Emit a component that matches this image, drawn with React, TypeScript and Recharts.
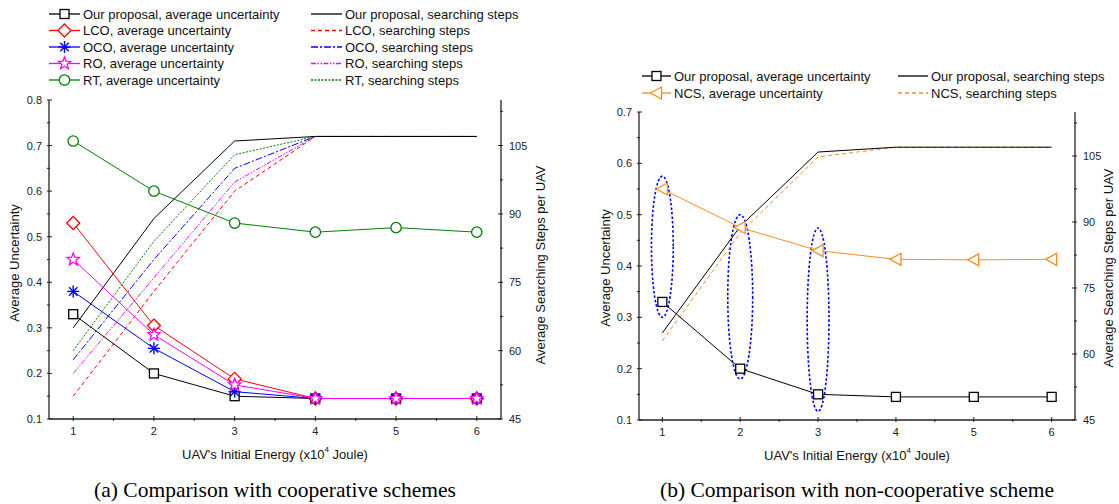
import React from 'react';
import { ComposedChart, Line, XAxis, YAxis, ReferenceArea } from 'recharts';

// x axis: UAV initial energy (x10^4 J)
const energy = [1, 2, 3, 4, 5, 6];

// (a) cooperative schemes - average uncertainty (left axis)
const ourUncertaintyA = [0.33, 0.2, 0.15, 0.145, 0.145, 0.145];
const lcoUncertainty = [0.53, 0.305, 0.188, 0.145, 0.145, 0.145];
const ocoUncertainty = [0.38, 0.255, 0.16, 0.145, 0.145, 0.145];
const roUncertainty = [0.45, 0.285, 0.175, 0.145, 0.145, 0.145];
const rtUncertainty = [0.71, 0.6, 0.53, 0.51, 0.52, 0.51];

// (a) searching steps per UAV (right axis)
const ourStepsA = [65, 89, 106, 107, 107, 107];
const lcoSteps = [50, 73, 95, 107, 107, 107];
const ocoSteps = [58, 80, 100, 107, 107, 107];
const roSteps = [55, 76, 97, 107, 107, 107];
const rtSteps = [60, 84, 103, 107, 107, 107];

// (b) non-cooperative scheme
const ourUncertaintyB = [0.33, 0.2, 0.15, 0.145, 0.145, 0.145];
const ncsUncertainty = [0.55, 0.475, 0.43, 0.413, 0.412, 0.413];
const ourStepsB = [64.8, 89, 105.9, 107, 107, 107];
const ncsSteps = [63, 87.5, 104.8, 107, 107, 107];

// dotted ellipses around the uncertainty gaps in (b)
const gapEnergy = [1, 2, 3];
const gapTop = [0.575, 0.5, 0.474];
const gapBottom = [0.3, 0.18, 0.117];
const gapHalfWidth = [0.14, 0.16, 0.14];

// ticks (minor ones carry no label)
const energyTicks = [1, 1.5, 2, 2.5, 3, 3.5, 4, 4.5, 5, 5.5, 6];
const uncertaintyTicksA = [0.1, 0.15, 0.2, 0.25, 0.3, 0.35, 0.4, 0.45, 0.5, 0.55, 0.6, 0.65, 0.7, 0.75, 0.8];
const uncertaintyTicksB = [0.1, 0.15, 0.2, 0.25, 0.3, 0.35, 0.4, 0.45, 0.5, 0.55, 0.6, 0.65, 0.7];
const stepTicks = [45, 52.5, 60, 67.5, 75, 82.5, 90, 97.5, 105, 112.5];

const rowsA = energy.map((e, i) => ({
  energy: e,
  ourU: ourUncertaintyA[i],
  lcoU: lcoUncertainty[i],
  ocoU: ocoUncertainty[i],
  roU: roUncertainty[i],
  rtU: rtUncertainty[i],
  ourS: ourStepsA[i],
  lcoS: lcoSteps[i],
  ocoS: ocoSteps[i],
  roS: roSteps[i],
  rtS: rtSteps[i],
}));

const rowsB = energy.map((e, i) => ({
  energy: e,
  ourU: ourUncertaintyB[i],
  ncsU: ncsUncertainty[i],
  ourS: ourStepsB[i],
  ncsS: ncsSteps[i],
}));

const FONT = '"Liberation Sans", Arial, sans-serif';
const SERIF = '"Liberation Serif", "Times New Roman", serif';
const AXIS = '#222';
const BLACK = '#000000';
const RED = '#ff0000';
const BLUE = '#0000ff';
const MAGENTA = '#ff00ff';
const GREEN = '#008000';
const ORANGE = '#ff8c1a';

const near = (a: number, b: number) => Math.abs(a - b) < 1e-6;
const isTenth = (v: number) => near(v * 10, Math.round(v * 10));

// ---- markers ----
const Square = ({ cx, cy, color }: any) => (
  <rect x={cx - 4.5} y={cy - 4.5} width={9} height={9} fill="#fff" stroke={color} strokeWidth={1.3} />
);
const Diamond = ({ cx, cy, color }: any) => (
  <polygon
    points={`${cx},${cy - 6.5} ${cx + 6.5},${cy} ${cx},${cy + 6.5} ${cx - 6.5},${cy}`}
    fill="#fff"
    stroke={color}
    strokeWidth={1.3}
  />
);
const Asterisk = ({ cx, cy, color }: any) => {
  const r = 6;
  const d = r * 0.707;
  return (
    <g stroke={color} strokeWidth={1.4}>
      <line x1={cx - r} y1={cy} x2={cx + r} y2={cy} />
      <line x1={cx} y1={cy - r} x2={cx} y2={cy + r} />
      <line x1={cx - d} y1={cy - d} x2={cx + d} y2={cy + d} />
      <line x1={cx - d} y1={cy + d} x2={cx + d} y2={cy - d} />
    </g>
  );
};
const Star = ({ cx, cy, color }: any) => {
  const pts: string[] = [];
  for (let k = 0; k < 10; k++) {
    const r = k % 2 === 0 ? 6.5 : 2.8;
    const a = -Math.PI / 2 + (k * Math.PI) / 5;
    pts.push(`${cx + r * Math.cos(a)},${cy + r * Math.sin(a)}`);
  }
  return <polygon points={pts.join(' ')} fill="#fff" stroke={color} strokeWidth={1.3} />;
};
const Circle = ({ cx, cy, color }: any) => (
  <circle cx={cx} cy={cy} r={5.2} fill="#fff" stroke={color} strokeWidth={1.3} />
);
const TriangleLeft = ({ cx, cy, color }: any) => (
  <polygon
    points={`${cx - 6},${cy} ${cx + 5},${cy - 6} ${cx + 5},${cy + 6}`}
    fill="#fff"
    stroke={color}
    strokeWidth={1.3}
  />
);

const dotOf = (Shape: any, color: string) => (p: any) => (
  <g key={`d-${p.index}`}>
    <Shape cx={p.cx} cy={p.cy} color={color} />
  </g>
);

// ---- axis ticks: drawn inside the frame, labels outside ----
const LeftTick = (p: any) => {
  const v = p.payload.value;
  const major = isTenth(v);
  return (
    <g>
      <line x1={p.x} y1={p.y} x2={p.x + (major ? 5 : 3)} y2={p.y} stroke={AXIS} />
      {major && (
        <text x={p.x - 5} y={p.y} textAnchor="end" dominantBaseline="central" fontFamily={FONT} fontSize={11} fill={AXIS}>
          {v.toFixed(1)}
        </text>
      )}
    </g>
  );
};
const RightTick = (p: any) => {
  const v = p.payload.value;
  const major = near((v - 45) % 15, 0);
  return (
    <g>
      <line x1={p.x} y1={p.y} x2={p.x - (major ? 5 : 3)} y2={p.y} stroke={AXIS} />
      {major && (
        <text x={p.x + 6} y={p.y} textAnchor="start" dominantBaseline="central" fontFamily={FONT} fontSize={11} fill={AXIS}>
          {v}
        </text>
      )}
    </g>
  );
};
const BottomTick = (p: any) => {
  const v = p.payload.value;
  const major = Number.isInteger(v);
  return (
    <g>
      <line x1={p.x} y1={p.y} x2={p.x} y2={p.y - (major ? 5 : 3)} stroke={AXIS} />
      {major && (
        <text x={p.x} y={p.y + 10} textAnchor="middle" dominantBaseline="central" fontFamily={FONT} fontSize={11} fill={AXIS}>
          {v}
        </text>
      )}
    </g>
  );
};
const TopTick = (p: any) => {
  const major = Number.isInteger(p.payload.value);
  return <line x1={p.x} y1={p.y} x2={p.x} y2={p.y + (major ? 5 : 3)} stroke={AXIS} />;
};

const Ellipse = (p: any) => (
  <ellipse
    cx={p.x + p.width / 2}
    cy={p.y + p.height / 2}
    rx={p.width / 2}
    ry={p.height / 2}
    fill="none"
    stroke={BLUE}
    strokeWidth={1.6}
    strokeDasharray="2.5 2"
  />
);

const axisLine = { stroke: AXIS, strokeWidth: 1.3 };

const Frame = ({ uncertaintyTicks, uncertaintyMax, leftWidth, rightWidth, bottomHeight }: any) => [
  <XAxis
    key="xb"
    dataKey="energy"
    type="number"
    domain={[0.7, 6.3]}
    ticks={energyTicks}
    interval={0}
    height={bottomHeight}
    tickSize={0}
    tickLine={false}
    axisLine={axisLine}
    tick={BottomTick}
  />,
  <XAxis
    key="xt"
    xAxisId="top"
    orientation="top"
    dataKey="energy"
    type="number"
    domain={[0.7, 6.3]}
    ticks={energyTicks}
    interval={0}
    height={0}
    tickSize={0}
    tickLine={false}
    axisLine={axisLine}
    tick={TopTick}
  />,
  <YAxis
    key="yl"
    yAxisId="left"
    type="number"
    domain={[0.1, uncertaintyMax]}
    ticks={uncertaintyTicks}
    interval={0}
    width={leftWidth}
    tickSize={0}
    tickLine={false}
    axisLine={axisLine}
    tick={LeftTick}
  />,
  <YAxis
    key="yr"
    yAxisId="right"
    orientation="right"
    type="number"
    domain={[45, 115]}
    ticks={stepTicks}
    interval={0}
    width={rightWidth}
    tickSize={0}
    tickLine={false}
    axisLine={axisLine}
    tick={RightTick}
  />,
];

const stepLine = (key: string, color: string, dash?: string) => (
  <Line
    key={key}
    yAxisId="right"
    type="linear"
    dataKey={key}
    stroke={color}
    strokeWidth={1}
    strokeDasharray={dash}
    dot={false}
    isAnimationActive={false}
  />
);

const uncLine = (key: string, color: string, Shape: any) => (
  <Line
    key={key}
    yAxisId="left"
    type="linear"
    dataKey={key}
    stroke={color}
    strokeWidth={1}
    dot={dotOf(Shape, color)}
    activeDot={false}
    isAnimationActive={false}
  />
);

const LegendRow = ({ x, y, color, Shape, dash, label, lineLen = 31 }: any) => (
  <g>
    <line x1={x} y1={y} x2={x + lineLen} y2={y} stroke={color} strokeWidth={1.3} strokeDasharray={dash} />
    {Shape && <Shape cx={x + lineLen / 2} cy={y} color={color} />}
    <text x={x + lineLen + 3} y={y} dominantBaseline="central" fontFamily={FONT} fontSize={13} fill="#111">
      {label}
    </text>
  </g>
);

const XTitle = ({ x, y }: any) => (
  <text x={x} y={y} textAnchor="middle" dominantBaseline="central" fontFamily={FONT} fontSize={13} fill="#111">
    UAV's Initial Energy (x10
    <tspan dy={-5} fontSize={8}>4</tspan>
    <tspan dy={5}> Joule)</tspan>
  </text>
);

const VTitle = ({ x, y, text }: any) => (
  <text
    x={x}
    y={y}
    transform={`rotate(-90 ${x} ${y})`}
    textAnchor="middle"
    dominantBaseline="central"
    fontFamily={FONT}
    fontSize={13}
    fill="#111"
  >
    {text}
  </text>
);

export default function App() {
  return (
    <div style={{ position: 'absolute', left: 0, top: 0, width: 1119, height: 504, background: '#fff' }}>
      <div style={{ position: 'absolute', left: 0, top: 0 }}>
        <ComposedChart width={560} height={504} data={rowsA} margin={{ top: 100, right: 0, bottom: 0, left: 0 }}>
          {Frame({ uncertaintyTicks: uncertaintyTicksA, uncertaintyMax: 0.8, leftWidth: 49, rightWidth: 59, bottomHeight: 85 })}
          {stepLine('rtS', GREEN, '2 1.5')}
          {stepLine('ocoS', BLUE, '7 2 2 2')}
          {stepLine('roS', MAGENTA, '5 1.5 1.5 1.5 1.5 1.5')}
          {stepLine('lcoS', RED, '4 3')}
          {stepLine('ourS', BLACK)}
          {uncLine('rtU', GREEN, Circle)}
          {uncLine('ourU', BLACK, Square)}
          {uncLine('lcoU', RED, Diamond)}
          {uncLine('ocoU', BLUE, Asterisk)}
          {uncLine('roU', MAGENTA, Star)}
        </ComposedChart>
      </div>
      <div style={{ position: 'absolute', left: 560, top: 0 }}>
        <ComposedChart width={559} height={504} data={rowsB} margin={{ top: 112, right: 0, bottom: 0, left: 0 }}>
          {Frame({ uncertaintyTicks: uncertaintyTicksB, uncertaintyMax: 0.7, leftWidth: 79, rightWidth: 44, bottomHeight: 84 })}
          {gapEnergy.map((e, i) => (
            <ReferenceArea
              key={`gap-${e}`}
              yAxisId="left"
              x1={e - gapHalfWidth[i]}
              x2={e + gapHalfWidth[i]}
              y1={gapBottom[i]}
              y2={gapTop[i]}
              shape={Ellipse}
              ifOverflow="visible"
            />
          ))}
          {stepLine('ncsS', ORANGE, '4 3')}
          {stepLine('ourS', BLACK)}
          {uncLine('ncsU', ORANGE, TriangleLeft)}
          {uncLine('ourU', BLACK, Square)}
        </ComposedChart>
      </div>
      <svg width={1119} height={504} style={{ position: 'absolute', left: 0, top: 0, pointerEvents: 'none' }}>
        {/* legend (a) */}
        <LegendRow x={49} y={14} color={BLACK} Shape={Square} label="Our proposal, average uncertainty" />
        <LegendRow x={49} y={30.5} color={RED} Shape={Diamond} label="LCO, average uncertainty" />
        <LegendRow x={49} y={47} color={BLUE} Shape={Asterisk} label="OCO, average uncertainty" />
        <LegendRow x={49} y={63.5} color={MAGENTA} Shape={Star} label="RO, average uncertainty" />
        <LegendRow x={49} y={80} color={GREEN} Shape={Circle} label="RT, average uncertainty" />
        <LegendRow x={311} y={14} color={BLACK} label="Our proposal, searching steps" />
        <LegendRow x={311} y={30.5} color={RED} dash="4 3" label="LCO, searching steps" />
        <LegendRow x={311} y={47} color={BLUE} dash="7 2 2 2" label="OCO, searching steps" />
        <LegendRow x={311} y={63.5} color={MAGENTA} dash="5 1.5 1.5 1.5 1.5 1.5" label="RO, searching steps" />
        <LegendRow x={311} y={80} color={GREEN} dash="2 1.5" label="RT, searching steps" />

        {/* legend (b) */}
        <LegendRow x={642} y={76} color={BLACK} Shape={Square} lineLen={29} label="Our proposal, average uncertainty" />
        <LegendRow x={642} y={93} color={ORANGE} Shape={TriangleLeft} lineLen={29} label="NCS, average uncertainty" />
        <LegendRow x={898} y={76} color={BLACK} lineLen={30} label="Our proposal, searching steps" />
        <LegendRow x={898} y={93} color={ORANGE} dash="4 3" lineLen={30} label="NCS, searching steps" />

        {/* axis titles */}
        <VTitle x={14} y={263} text="Average Uncertainty" />
        <VTitle x={540} y={265} text="Average Searching Steps per UAV" />
        <XTitle x={275} y={454} />
        <VTitle x={605} y={268} text="Average Uncertainty" />
        <VTitle x={1108} y={268} text="Average Searching Steps per UAV" />
        <XTitle x={857} y={455} />

        {/* sub-captions */}
        <text x={275} y={497} textAnchor="middle" fontFamily={SERIF} fontSize={21.5} fill="#000">
          (a) Comparison with cooperative schemes
        </text>
        <text x={857} y={497} textAnchor="middle" fontFamily={SERIF} fontSize={21.5} fill="#000">
          (b) Comparison with non-cooperative scheme
        </text>
      </svg>
    </div>
  );
}
